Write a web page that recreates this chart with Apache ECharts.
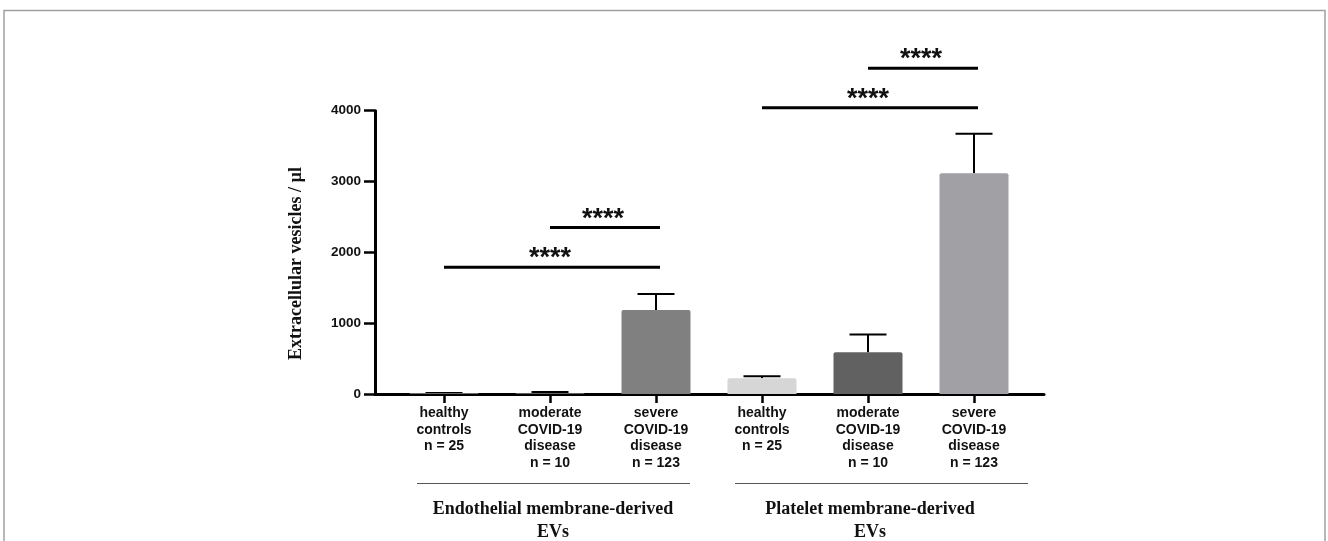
<!DOCTYPE html>
<html>
<head>
<meta charset="utf-8">
<script src="https://cdn.jsdelivr.net/npm/echarts@6/dist/echarts.min.js"></script>
<style>html,body{margin:0;padding:0;background:#fff}#c{width:1328px;height:541px}</style>
</head>
<body>
<div id="c"></div>
<script>
// ---- data ----
const categories = [
  'healthy\ncontrols\nn = 25',
  'moderate\nCOVID-19\ndisease\nn = 10',
  'severe\nCOVID-19\ndisease\nn = 123',
  'healthy\ncontrols\nn = 25',
  'moderate\nCOVID-19\ndisease\nn = 10',
  'severe\nCOVID-19\ndisease\nn = 123'
];
const means = [8, 15, 1186, 222, 590, 3117];
const errorTops = [15, 30, 1412, 250, 840, 3673];
const barColors = ['#d6d6d6', '#616161', '#808080', '#d6d6d6', '#616161', '#a0a0a5'];
// significance brackets
const sigFrom = [0, 1, 3, 4];
const sigTo = [2, 2, 5, 5];
const sigY = [1790, 2350, 4040, 4600];
const sigLabel = ['****', '****', '****', '****'];
const groupNames = ['Endothelial membrane-derived\nEVs', 'Platelet membrane-derived\nEVs'];
const yTicks = [0, 1000, 2000, 3000, 4000];
const yTitle = 'Extracellular vesicles / µl';

const chart = echarts.init(document.getElementById('c'));
const sans = 'Liberation Sans, Arial, sans-serif';
const serif = 'Liberation Serif, Times New Roman, serif';

const gTop = 110.7, gBottom = 147;

const option = {
  animation: false,
  backgroundColor: '#fff',
  grid: [
    {left: 391, right: 301, top: gTop, bottom: gBottom},
    {left: 375, right: 284, top: gTop, bottom: gBottom}
  ],
  xAxis: [
    {
      type: 'category', gridIndex: 0, data: categories,
      axisLine: {show: false},
      axisTick: {show: true, alignWithLabel: true, length: 9, lineStyle: {color: '#000', width: 2.5}},
      axisLabel: {color: '#111', fontFamily: sans, fontWeight: 'bold', fontSize: 14, lineHeight: 16.5, margin: 11, interval: 0}
    },
    {
      type: 'value', gridIndex: 1, min: 0, max: 1,
      axisLine: {show: true, onZero: false, lineStyle: {color: '#000', width: 3}},
      axisTick: {show: false}, axisLabel: {show: false}, splitLine: {show: false}
    }
  ],
  yAxis: [
    {type: 'value', gridIndex: 0, min: yTicks[0], max: yTicks[yTicks.length - 1], interval: yTicks[1] - yTicks[0], show: false},
    {
      type: 'value', gridIndex: 1, min: yTicks[0], max: yTicks[yTicks.length - 1], interval: yTicks[1] - yTicks[0],
      axisLine: {show: true, lineStyle: {color: '#000', width: 3}},
      axisTick: {show: true, length: 11, lineStyle: {color: '#000', width: 2.5}},
      axisLabel: {color: '#111', fontFamily: sans, fontWeight: 'bold', fontSize: 13.5, margin: 14, formatter: v => String(v)},
      splitLine: {show: false}
    }
  ],
  series: [
    {
      type: 'bar', xAxisIndex: 0, yAxisIndex: 0, barWidth: 69,
      data: means.map((v, i) => ({value: v, itemStyle: {color: barColors[i], borderRadius: [2, 2, 0, 0]}}))
    },
    {
      type: 'custom', xAxisIndex: 0, yAxisIndex: 0, clip: false, z: 1,
      data: means.map((m, i) => [i, m, errorTops[i]]),
      renderItem: function (params, api) {
        const x = api.value(0);
        const p0 = api.coord([x, api.value(1)]);
        const p1 = api.coord([x, api.value(2)]);
        const hw = 18.5;
        return {
          type: 'group',
          children: [
            {type: 'line', shape: {x1: p0[0], y1: p0[1], x2: p1[0], y2: p1[1]}, style: {stroke: '#000', lineWidth: 2}},
            {type: 'line', shape: {x1: p1[0] - hw, y1: p1[1], x2: p1[0] + hw, y2: p1[1]}, style: {stroke: '#000', lineWidth: 2}}
          ]
        };
      }
    },
    {
      type: 'custom', xAxisIndex: 0, yAxisIndex: 0, clip: false, z: 3,
      data: sigFrom.map((f, i) => [f, sigTo[i], sigY[i]]),
      renderItem: function (params, api) {
        const i = params.dataIndex;
        const a = api.coord([sigFrom[i], sigY[i]]);
        const b = api.coord([sigTo[i], sigY[i]]);
        return {
          type: 'group',
          children: [
            {type: 'line', shape: {x1: a[0], y1: a[1], x2: b[0] + 4, y2: b[1]}, style: {stroke: '#000', lineWidth: 3}},
            {type: 'text', x: (a[0] + b[0]) / 2, y: a[1] + 5,
             style: {text: sigLabel[i], fill: '#111', font: 'bold 27px ' + sans, textAlign: 'center', textVerticalAlign: 'bottom'}}
          ]
        };
      }
    }
  ],
  graphic: [
    {type: 'rect', shape: {x: 4, y: 10.5, width: 1321, height: 700}, style: {fill: 'none', stroke: '#a0a0a0', lineWidth: 1.5}, silent: true},
    {type: 'text', x: 296, y: 263.5, rotation: Math.PI / 2,
     style: {text: yTitle, font: 'bold 18px ' + serif, fill: '#111', textAlign: 'center', textVerticalAlign: 'middle'}},
    {type: 'line', shape: {x1: 417, y1: 483.5, x2: 690, y2: 483.5}, style: {stroke: '#555', lineWidth: 1}},
    {type: 'line', shape: {x1: 735, y1: 483.5, x2: 1028, y2: 483.5}, style: {stroke: '#555', lineWidth: 1}},
    {type: 'text', x: 553, y: 498,
     style: {text: groupNames[0], font: 'bold 18px ' + serif, fill: '#111', textAlign: 'center', textVerticalAlign: 'top', lineHeight: 23}},
    {type: 'text', x: 870, y: 498,
     style: {text: groupNames[1], font: 'bold 18px ' + serif, fill: '#111', textAlign: 'center', textVerticalAlign: 'top', lineHeight: 23}}
  ]
};
chart.setOption(option);
</script>
</body>
</html>
